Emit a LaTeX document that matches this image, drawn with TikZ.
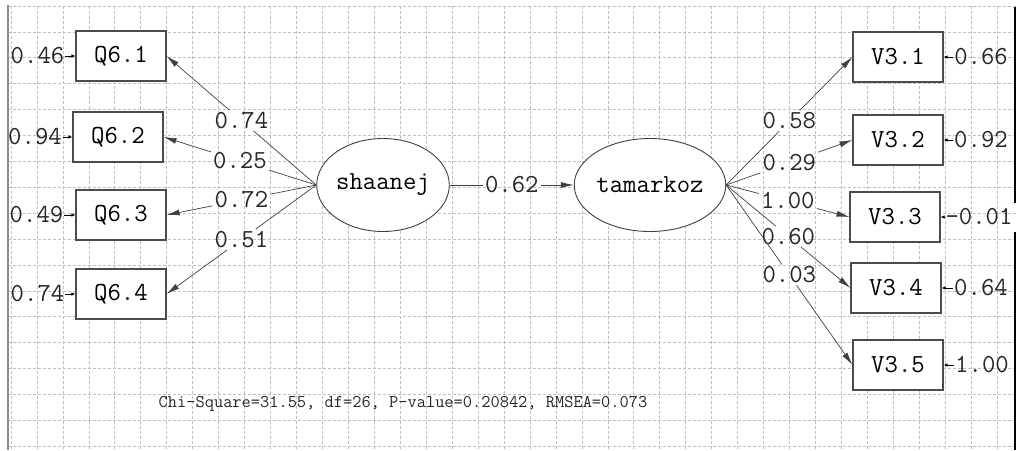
\documentclass[tikz,border=0pt]{standalone}
\usepackage{fontspec}
\usetikzlibrary{shapes.geometric,arrows.meta,calc}
\begin{document}
\begin{tikzpicture}[x=1pt,y=-1pt,
 font=\ttfamily\fontsize{26}{28}\selectfont,
 obs/.style={draw=black!70, line width=1.1pt, fill=white, minimum width=90pt, minimum height=50pt, inner sep=0pt},
 lat/.style={ellipse, draw=black!75, line width=0.9pt, fill=white, minimum width=131pt, minimum height=93pt, inner sep=0pt},
 coef/.style={inner sep=2pt, text=black!85},
 errl/.style={inner sep=1pt, text=black!85},
 conn/.style={draw=black!75, line width=0.7pt},
 arr/.style={conn, -{Latex[length=13pt,width=6pt]}},
 earr/.style={draw=black, line width=0.9pt, -{Latex[length=4pt,width=3.5pt]}},
 gridl/.style={draw=black!25, dash pattern=on 3pt off 2pt, line width=0.7pt}
]
\useasboundingbox (0,0) rectangle (1016,450);
% grid
\foreach \k in {0,...,38} \draw[gridl] ({11+25.95*\k},6) -- ({11+25.95*\k},450);
\foreach \k in {0,...,17} \draw[gridl] (8,{6+25.9*\k}) -- (1016,{6+25.9*\k});
% borders
\draw[black!45, line width=2.5pt] (8,5) -- (8,450);
\draw[black, line width=1.2pt] (1015,7) -- (1015,203);
\draw[black, line width=1.2pt] (1015,232) -- (1015,450);

% latent variables
\node[lat] (sh) at (383,185) {shaanej};
\node[lat] (ta) at (650,185) {tamarkoz};

% observed left
\node[obs] (q1) at (121,56) {Q6.1};
\node[obs] (q2) at (118,137) {Q6.2};
\node[obs] (q3) at (121,215) {Q6.3};
\node[obs] (q4) at (121,294) {Q6.4};

% observed right
\node[obs] (v1) at (898,57) {V3.1};
\node[obs] (v2) at (898,140) {V3.2};
\node[obs] (v3) at (895,217) {V3.3};
\node[obs] (v4) at (896,288) {V3.4};
\node[obs] (v5) at (898,365) {V3.5};

% error terms left
\node[errl] (eq1) at (37.5,56) {0.46};
\node[errl] (eq2) at (35,137) {0.94};
\node[errl] (eq3) at (36.5,215) {0.49};
\node[errl] (eq4) at (37.5,294) {0.74};
\foreach \i in {1,2,3,4} \draw[earr] (eq\i.east) -- (q\i.west);

% error terms right
\node[errl] (ev1) at (981,57) {0.66};
\node[errl] (ev2) at (981,140) {0.92};
\node[errl] (ev3) at (979,217) {-0.01};
\node[errl] (ev4) at (981,288) {0.64};
\node[errl] (ev5) at (982,365) {1.00};
\foreach \i in {1,...,5} \draw[earr] (ev\i.west) -- (v\i.east);

% loadings left
\foreach \i/\v in {1/0.74,2/0.25,3/0.72,4/0.51}{
  \node[coef] (lq\i) at ($(sh.west)!0.5!(q\i.east)$) {\v};
  \draw[conn] (sh.west) -- (lq\i);
  \draw[arr] (lq\i) -- (q\i.east);
}
% loadings right
\foreach \i/\v in {1/0.58,2/0.29,3/1.00,4/0.60,5/0.03}{
  \node[coef] (lv\i) at ($(ta.east)!0.5!(v\i.west)$) {\v};
  \draw[conn] (ta.east) -- (lv\i);
  \draw[arr] (lv\i) -- (v\i.west);
}
% structural path
\node[coef] (ls) at ($(sh.east)!0.5!(ta.west)$) {0.62};
\draw[conn] (sh.east) -- (ls);
\draw[arr] (ls) -- (ta.west);

% fit statistics
\node[text=black!85, font=\ttfamily\fontsize{17.9}{20}\selectfont] (fit) at (403,404) {Chi-Square=31.55, df=26, P-value=0.20842, RMSEA=0.073};
\end{tikzpicture}
\end{document}
